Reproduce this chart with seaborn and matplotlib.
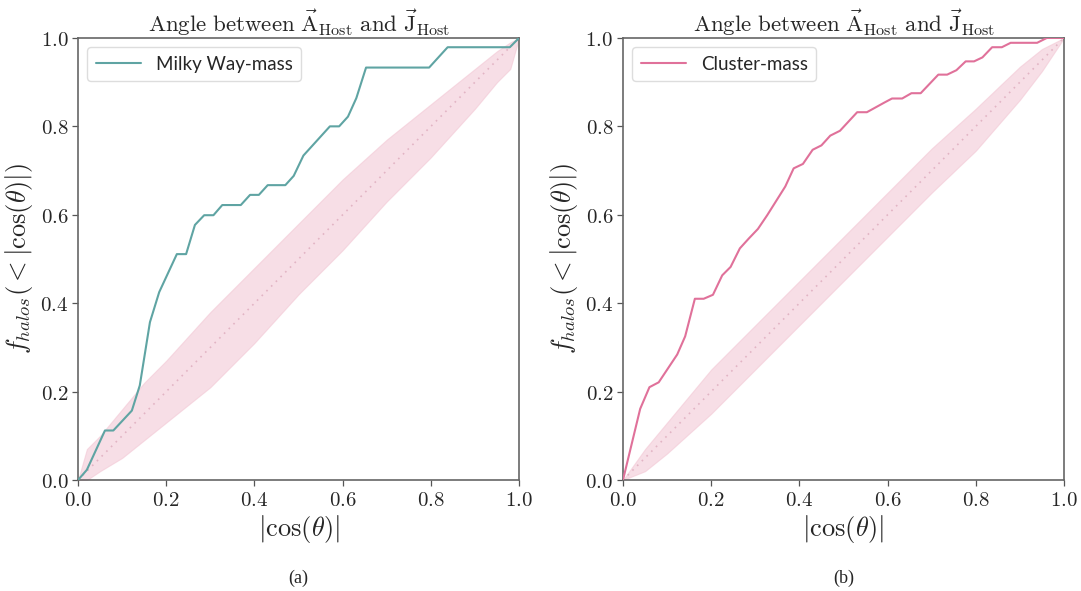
import matplotlib
matplotlib.use("Agg")
import matplotlib.pyplot as plt
from matplotlib.ticker import FuncFormatter
import seaborn as sns
import pandas as pd

# %%
# Milky Way-mass hosts: cumulative fraction vs |cos(theta)|
mw_cos = [0.0, 0.02, 0.061, 0.080, 0.122, 0.140, 0.163, 0.184, 0.224, 0.245,
          0.265, 0.286, 0.307, 0.327, 0.369, 0.390, 0.410, 0.430, 0.470, 0.489,
          0.511, 0.571, 0.592, 0.612, 0.631, 0.653, 0.796, 0.838, 0.979, 1.0]
mw_frac = [0.0, 0.023, 0.112, 0.112, 0.157, 0.214, 0.357, 0.425, 0.511, 0.511,
           0.577, 0.599, 0.599, 0.622, 0.622, 0.645, 0.645, 0.667, 0.667, 0.688,
           0.734, 0.800, 0.800, 0.822, 0.864, 0.933, 0.933, 0.979, 0.979, 1.0]

# Cluster-mass hosts
cl_cos = [0.0, 0.039, 0.060, 0.081, 0.123, 0.141, 0.163, 0.183, 0.204, 0.225,
          0.244, 0.265, 0.285, 0.306, 0.327, 0.368, 0.387, 0.408, 0.430, 0.450,
          0.470, 0.492, 0.531, 0.553, 0.593, 0.610, 0.633, 0.654, 0.675, 0.715,
          0.735, 0.756, 0.777, 0.796, 0.815, 0.837, 0.859, 0.879, 0.939, 0.961, 1.0]
cl_frac = [0.0, 0.161, 0.210, 0.221, 0.284, 0.325, 0.410, 0.410, 0.419, 0.463,
           0.482, 0.524, 0.546, 0.568, 0.599, 0.664, 0.705, 0.715, 0.747, 0.757,
           0.779, 0.790, 0.832, 0.832, 0.854, 0.863, 0.863, 0.875, 0.875, 0.917,
           0.917, 0.927, 0.947, 0.947, 0.956, 0.979, 0.979, 0.989, 0.989, 1.0, 1.0]

# isotropic expectation bands
mw_band_x = [0.0, 0.02, 0.05, 0.10, 0.15, 0.20, 0.30, 0.40, 0.50, 0.60, 0.70, 0.80, 0.90, 0.95, 0.98, 1.0]
mw_band_lo = [0.0, 0.0, 0.02, 0.05, 0.09, 0.13, 0.21, 0.31, 0.42, 0.52, 0.63, 0.73, 0.84, 0.90, 0.93, 1.0]
mw_band_hi = [0.0, 0.07, 0.10, 0.16, 0.22, 0.27, 0.38, 0.48, 0.58, 0.68, 0.77, 0.85, 0.93, 0.97, 0.99, 1.0]

cl_band_x = [0.0, 0.05, 0.10, 0.20, 0.30, 0.40, 0.50, 0.60, 0.70, 0.80, 0.90, 0.95, 1.0]
cl_band_lo = [0.0, 0.02, 0.06, 0.15, 0.25, 0.35, 0.45, 0.55, 0.65, 0.745, 0.86, 0.925, 1.0]
cl_band_hi = [0.0, 0.07, 0.13, 0.25, 0.35, 0.45, 0.55, 0.65, 0.75, 0.84, 0.935, 0.975, 1.0]

ticks = [0.0, 0.2, 0.4, 0.6, 0.8, 1.0]

# %%
sns.set_style("ticks")
plt.rcParams["mathtext.fontset"] = "cm"
plt.rcParams["font.family"] = ["Lato", "DejaVu Sans"]

fig = plt.figure(figsize=(10.81, 5.91), dpi=100)
ax_a = fig.add_axes([0.0722, 0.1878, 0.408, 0.748])
ax_b = fig.add_axes([0.5763, 0.1878, 0.408, 0.748])

title = (r"$\mathrm{Angle\ between\ }\vec{\mathrm{A}}_{\mathrm{Host}}"
         r"\mathrm{\ and\ }\vec{\mathrm{J}}_{\mathrm{Host}}$")
fmt = FuncFormatter(lambda v, p: f"${v:.1f}$")

panels = [
    (ax_a, mw_cos, mw_frac, mw_band_x, mw_band_lo, mw_band_hi, "Milky Way-mass", "#5fa4a3", "(a)"),
    (ax_b, cl_cos, cl_frac, cl_band_x, cl_band_lo, cl_band_hi, "Cluster-mass", "#e0719a", "(b)"),
]

for ax, xs, ys, bx, blo, bhi, label, color, cap in panels:
    ax.fill_between(bx, blo, bhi, color="#f2c4d2", alpha=0.55, lw=0.8, zorder=1)
    sns.lineplot(x=[0, 1], y=[0, 1], ax=ax, color="#e2b4c4", lw=1.2,
                 linestyle=(0, (1, 3)), zorder=2)
    df = pd.DataFrame({"cos": xs, "f": ys})
    sns.lineplot(data=df, x="cos", y="f", ax=ax, color=color, lw=1.5,
                 label=label, zorder=3, estimator=None, sort=False)
    ax.set_xlim(0, 1)
    ax.set_ylim(0, 1)
    ax.set_xticks(ticks)
    ax.set_yticks(ticks)
    ax.xaxis.set_major_formatter(fmt)
    ax.yaxis.set_major_formatter(fmt)
    ax.tick_params(labelsize=15, length=4, width=0.9, color="#555555", pad=3)
    for s in ax.spines.values():
        s.set_color("#666666")
        s.set_linewidth(1.2)
    ax.set_title(title, fontsize=16.5, pad=4)
    ax.set_xlabel(r"$\left|\cos(\theta)\right|$", fontsize=19, labelpad=2)
    ax.set_ylabel(r"$f_{halos}(<\left|\cos(\theta)\right|)$", fontsize=19, labelpad=4)
    leg = ax.legend(loc="upper left", fontsize=13.5, handlelength=2.4,
                    borderpad=0.45, fancybox=True, framealpha=1,
                    edgecolor="#dddddd")
    bb = ax.get_position()
    fig.text((bb.x0 + bb.x1) / 2, 1 - 578 / 591, cap, ha="center", va="center",
             fontsize=13, family="Liberation Serif")

fig.savefig("out.png", dpi=100)
